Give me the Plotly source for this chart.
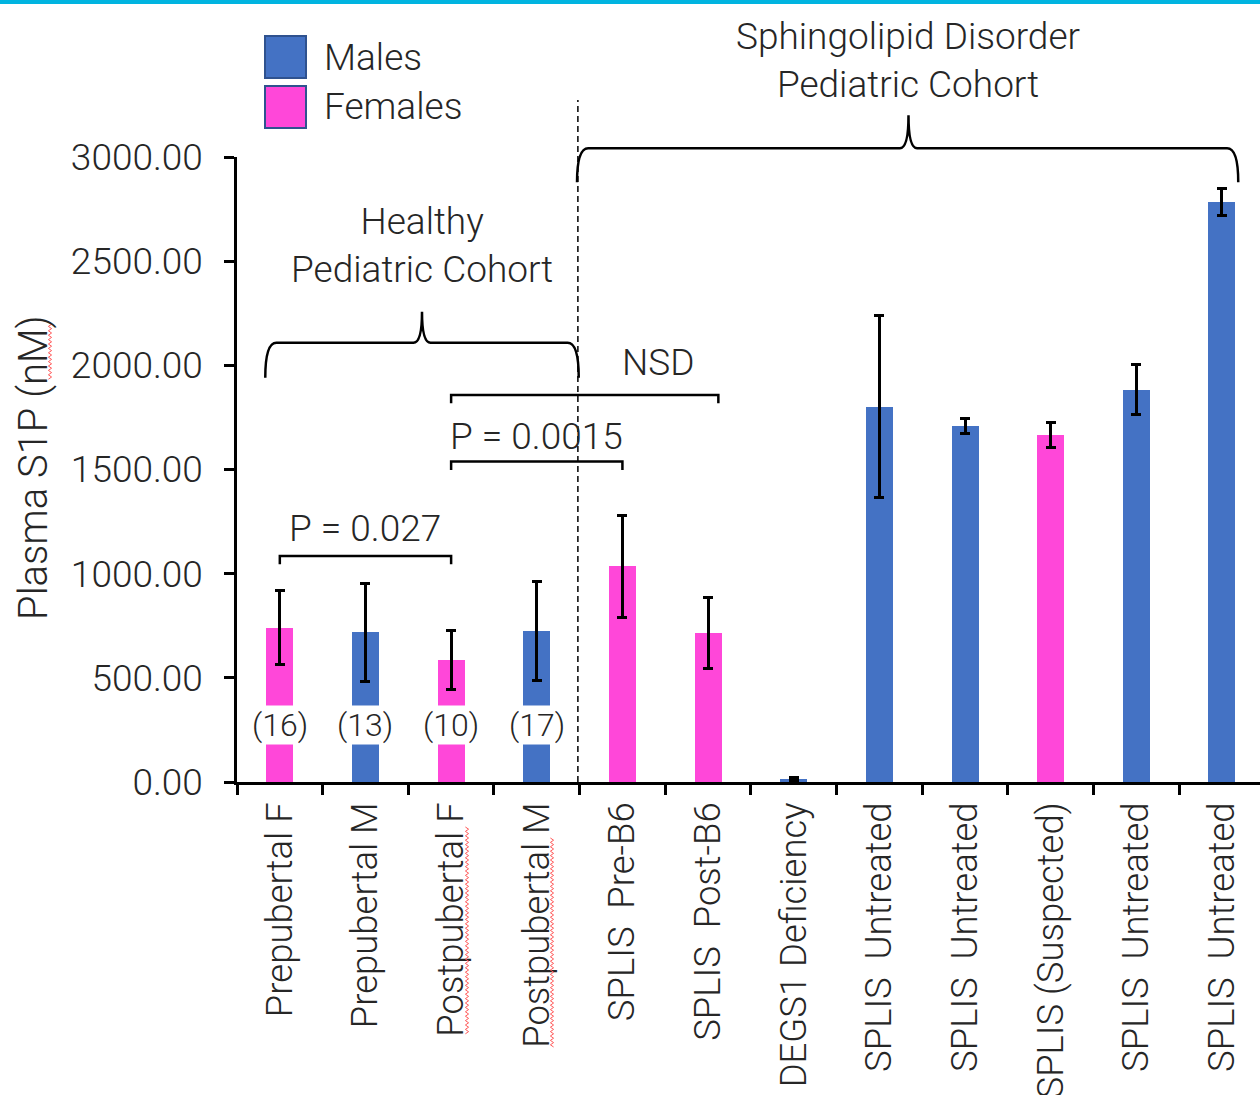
import plotly.graph_objects as go

# ---------------- data ----------------
categories = ["Prepubertal F", "Prepubertal M", "Postpubertal F", "Postpubertal M",
              "SPLIS\u00a0 Pre-B6", "SPLIS\u00a0 Post-B6", "DEGS1 Deficiency",
              "SPLIS\u00a0 Untreated", "SPLIS\u00a0 Untreated", "SPLIS (Suspected)",
              "SPLIS\u00a0 Untreated", "SPLIS\u00a0 Untreated"]
values = [740, 718, 587, 725, 1035, 717, 15, 1802, 1709, 1666, 1882, 2784]
errors = [178, 235, 141, 238, 245, 170, 8, 435, 36, 61, 120, 67]
sex = ["F", "M", "F", "M", "F", "F", "M", "M", "M", "F", "M", "M"]
n_labels = ["(16)", "(13)", "(10)", "(17)"]
y_ticks = [0, 500, 1000, 1500, 2000, 2500, 3000]

# comparison brackets: (from category, to category, level, text, text x, text y)
comparisons = [
    (0, 2, 1085, "P = 0.027", 1.0, 1216),
    (2, 4, 1538, "P = 0.0015", 3.0, 1657),
    (2, 5.12, 1858, "NSD", 4.41, 2015),
]

BLUE = "#4472C4"
PINK = "#FF47D9"
TXT = "#262626"
FONT = "Roboto Light, Roboto"

X0, X1 = -0.5, 11.444
YMAX = 3000
L, T, B, W, H = 237, 157, 313, 1260, 1095
PW = W - L
PH = H - T - B


def xp(x):
    return (x - X0) / (X1 - X0)


def yp(v):
    return v / YMAX


def pxx(px):  # pixel -> paper (x)
    return (px - L) / PW


def pxy(py):  # pixel -> paper (y)
    return (H - B - py) / PH


x_idx = list(range(len(categories)))
colors = [PINK if s == "F" else BLUE for s in sex]

fig = go.Figure()
fig.add_trace(go.Bar(
    x=x_idx, y=values, width=0.315,
    marker=dict(color=colors, line=dict(width=0)),
    error_y=dict(type="data", array=errors, visible=True, color="black",
                 thickness=3, width=5),
    showlegend=False,
))

shapes = []
annotations = []

# top cyan rule
shapes.append(dict(type="rect", xref="paper", yref="paper",
                   x0=pxx(-5), x1=pxx(W + 5), y0=pxy(4), y1=pxy(-5),
                   fillcolor="#00B4E0", line=dict(width=0), layer="above"))

# dashed divider
shapes.append(dict(type="line", xref="paper", yref="paper",
                   x0=xp(3.48), x1=xp(3.48), y0=0, y1=pxy(100),
                   line=dict(color="black", width=1.5, dash="6px,4px")))

# comparison brackets
for a, b, lvl, txt, tx, ty in comparisons:
    shapes.append(dict(type="path", xref="x", yref="y",
                       path=f"M {a},{lvl-40} L {a},{lvl} L {b},{lvl} L {b},{lvl-40}",
                       line=dict(color="black", width=2.5)))
    annotations.append(dict(x=tx, y=ty, xref="x", yref="y", text=txt,
                            showarrow=False, font=dict(family=FONT, size=37, color=TXT, weight=300),
                            xanchor="center", yanchor="middle"))


def brace(x0, x1, xc, yb, yh, ypk, r=0.13, r2=0.1):
    return (f"M {xp(x0)},{yp(yb)} "
            f"Q {xp(x0)},{yp(yh)} {xp(x0 + r)},{yp(yh)} "
            f"L {xp(xc - r2)},{yp(yh)} "
            f"Q {xp(xc)},{yp(yh)} {xp(xc)},{yp(ypk)} "
            f"Q {xp(xc)},{yp(yh)} {xp(xc + r2)},{yp(yh)} "
            f"L {xp(x1 - r)},{yp(yh)} "
            f"Q {xp(x1)},{yp(yh)} {xp(x1)},{yp(yb)}")


shapes.append(dict(type="path", xref="paper", yref="paper",
                   path=brace(-0.17, 3.49, 1.66, 1940, 2108, 2257),
                   line=dict(color="black", width=2.5)))
shapes.append(dict(type="path", xref="paper", yref="paper",
                   path=brace(3.47, 11.19, 7.34, 2879, 3042, 3200),
                   line=dict(color="black", width=2.5)))

annotations.append(dict(x=1.66, y=2577, xref="x", yref="y",
                        text="Healthy<br>Pediatric Cohort", showarrow=False,
                        font=dict(family=FONT, size=37, color=TXT, weight=300),
                        xanchor="center", yanchor="middle"))
annotations.append(dict(x=7.34, y=pxy(60.5), xref="x", yref="paper",
                        text="Sphingolipid Disorder<br>Pediatric Cohort", showarrow=False,
                        font=dict(family=FONT, size=37, color=TXT, weight=300),
                        xanchor="center", yanchor="middle"))

# n labels on healthy bars
for i, lab in enumerate(n_labels):
    annotations.append(dict(x=i, y=276, xref="x", yref="y", text=lab, showarrow=False,
                            bgcolor="white", borderpad=0,
                            font=dict(family=FONT, size=32, color=TXT, weight=300),
                            xanchor="center", yanchor="middle"))

# custom legend
legend_items = [("Males", BLUE, 36, 78), ("Females", PINK, 86, 128)]
for name, col, ptop, pbot in legend_items:
    shapes.append(dict(type="rect", xref="paper", yref="paper",
                       x0=pxx(265), x1=pxx(306), y0=pxy(pbot), y1=pxy(ptop),
                       fillcolor=col, line=dict(color="#2F528F", width=2)))
    annotations.append(dict(x=pxx(322), y=pxy((ptop + pbot) / 2), xref="paper", yref="paper",
                            text=name, showarrow=False,
                            font=dict(family=FONT, size=37, color=TXT, weight=300),
                            xanchor="left", yanchor="middle"))

# y-axis title
annotations.append(dict(x=pxx(33), y=pxy(468), xref="paper", yref="paper",
                        text="Plasma S1P (nM)", showarrow=False, textangle=-90,
                        font=dict(family=FONT, size=40, color=TXT, weight=300),
                        xanchor="center", yanchor="middle"))


# spell-check squiggles (decoration seen in the picture)
def squiggle(xpix, ytop, ybot, amp=1.6, step=2.2):
    pts = []
    y = ytop
    k = 0
    while y <= ybot:
        pts.append((pxx(xpix + (amp if k % 2 else -amp)), pxy(y)))
        y += step
        k += 1
    return "M " + " L ".join(f"{a},{b}" for a, b in pts)


for xpix, ytop, ybot in [(50, 322, 380), (467, 827, 1035), (552, 838, 1048)]:
    shapes.append(dict(type="path", xref="paper", yref="paper",
                       path=squiggle(xpix, ytop, ybot),
                       line=dict(color="#FF5A5A", width=1)))

fig.update_layout(
    width=W, height=H,
    margin=dict(l=L, r=0, t=T, b=B, autoexpand=False),
    paper_bgcolor="white", plot_bgcolor="white",
    bargap=0.0,
    shapes=shapes, annotations=annotations,
    font=dict(family=FONT, color=TXT),
)

fig.update_xaxes(
    automargin=False,
    range=[X0, X1], tickmode="array", tickvals=x_idx, ticktext=categories,
    tickangle=-90, ticks="outside", ticklen=3, tickcolor="rgba(0,0,0,0)",
    tickfont=dict(family=FONT, size=36.5, color=TXT, weight=300),
    showline=True, linecolor="black", linewidth=2.5,
    showgrid=False, zeroline=False,
    minor=dict(tickvals=[i - 0.5 for i in range(13)], ticks="outside",
               ticklen=10, tickwidth=2.5, tickcolor="black", showgrid=False),
)
fig.update_yaxes(
    automargin=False,
    range=[0, YMAX], tickmode="array", tickvals=y_ticks, tickformat=".2f",
    ticks="outside", ticklen=10, tickwidth=2.5, tickcolor="black",
    tickfont=dict(family=FONT, size=37, color=TXT, weight=300),
    ticklabelstandoff=14,
    showline=True, linecolor="black", linewidth=2.5,
    showgrid=False, zeroline=False,
)

fig.write_html("out.html")
